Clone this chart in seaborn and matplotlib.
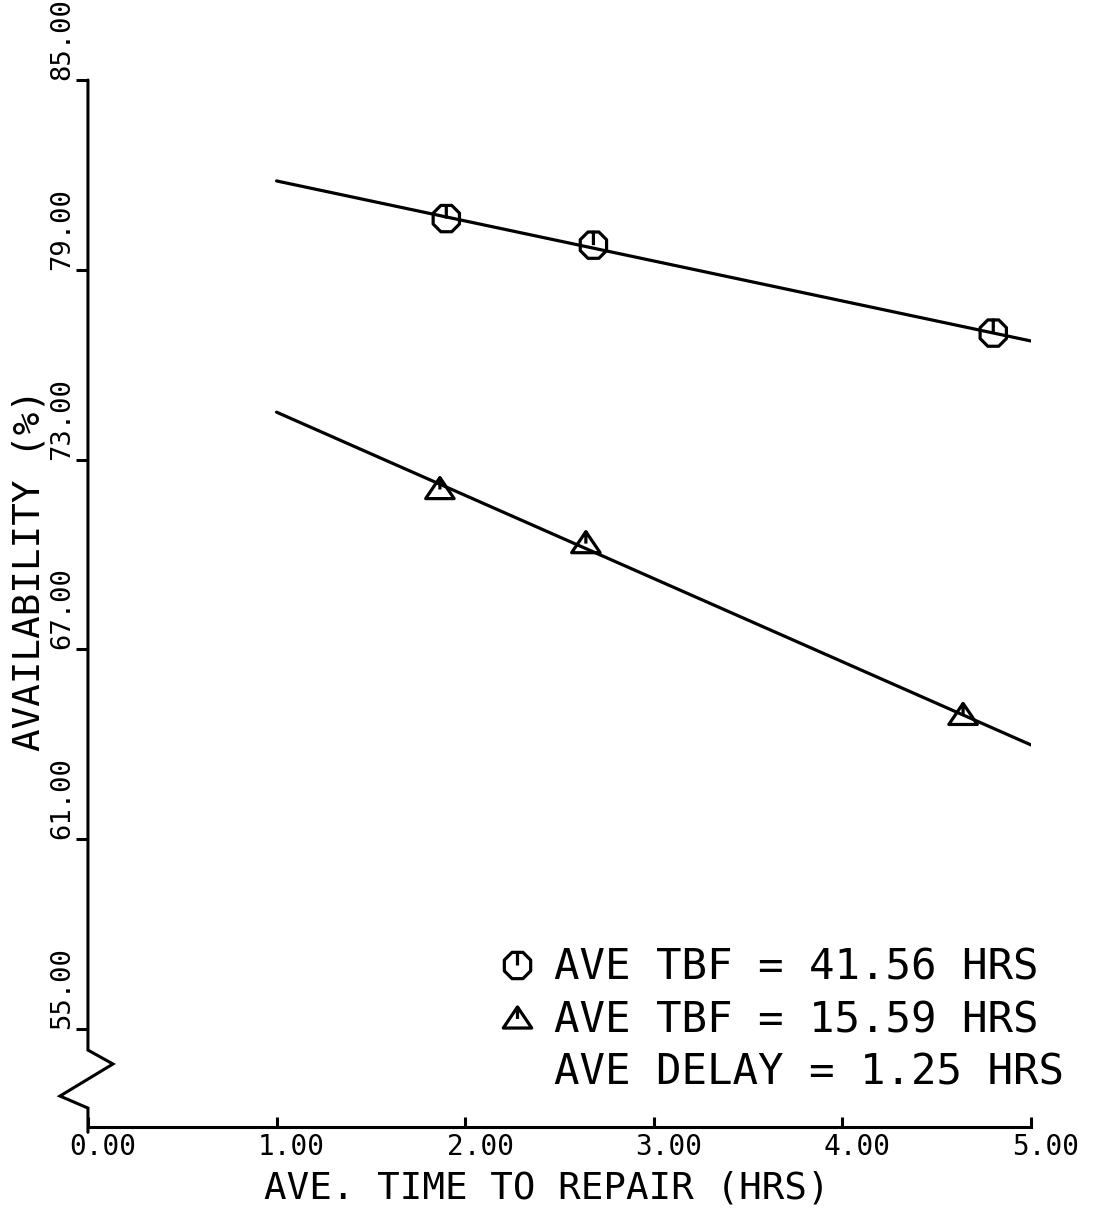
import numpy as np
import pandas as pd
import seaborn as sns
import matplotlib
matplotlib.use("Agg")
import matplotlib.pyplot as plt
from matplotlib.path import Path
from matplotlib.lines import Line2D
from matplotlib.transforms import ScaledTranslation

# ---------------- data ----------------
repair_hi = [1.90, 2.68, 4.80]
avail_hi = [80.62, 79.78, 77.00]
repair_lo = [1.866, 2.64, 4.64]
avail_lo = [72.10, 70.39, 64.96]
fit_x = [1.0, 5.0]
fit_hi = [81.81, 76.75]
fit_lo = [74.50, 63.98]

y_ticks = [55, 61, 67, 73, 79, 85]
x_ticks = [0, 1, 2, 3, 4, 5]
legend_labels = ["AVE TBF = 41.56 HRS", "AVE TBF = 15.59 HRS", "AVE DELAY = 1.25 HRS"]
x_label = "AVE. TIME TO REPAIR (HRS)"
y_label = "AVAILABILITY (%)"

# ---------------- style ----------------
sns.set_style("ticks")
plt.rcParams.update({
    "axes.edgecolor": "black", "text.color": "black", "axes.labelcolor": "black",
    "xtick.color": "black", "ytick.color": "black",
})
plt.rcParams["font.family"] = ["DejaVu Sans Mono", "DejaVu Sans"]

# custom plotter-like markers
ang = np.deg2rad(np.arange(8) * 45 + 22.5)
oct_v = [(0.5 * np.cos(a), 0.5 * np.sin(a)) for a in ang]
circ_verts = oct_v + [oct_v[0], (0, 0.5), (0, 0.0)]
circ_codes = [Path.MOVETO] + [Path.LINETO] * 7 + [Path.CLOSEPOLY, Path.MOVETO, Path.LINETO]
circ_marker = Path(circ_verts, circ_codes)

tri_verts = [(-0.5, -0.37), (0.5, -0.37), (0.0, 0.37), (-0.5, -0.37), (0.0, 0.37), (0.0, -0.05)]
tri_codes = [Path.MOVETO, Path.LINETO, Path.LINETO, Path.CLOSEPOLY, Path.MOVETO, Path.LINETO]
tri_marker = Path(tri_verts, tri_codes)

fig = plt.figure(figsize=(10.94, 12.09), dpi=100)
ax = fig.add_axes([0.0804, 0.0678, 0.862, 0.866])

df_fit = pd.DataFrame({"x": fit_x * 2, "y": fit_hi + fit_lo, "s": ["hi"] * 2 + ["lo"] * 2})
sns.lineplot(data=df_fit, x="x", y="y", units="s", estimator=None, color="black", lw=2.3, ax=ax)

msize = 20.5
sns.scatterplot(x=repair_hi, y=avail_hi, marker=circ_marker, s=msize ** 2,
                facecolor="none", edgecolor="black", linewidth=2.3, ax=ax, zorder=3)
sns.scatterplot(x=repair_lo, y=avail_lo, marker=tri_marker, s=msize ** 2,
                facecolor="none", edgecolor="black", linewidth=2.3, ax=ax, zorder=3)

ax.set_xlim(0, 5)
ax.set_ylim(51.9, 85)
ax.spines["top"].set_visible(False)
ax.spines["right"].set_visible(False)
ax.spines["left"].set_visible(False)
ax.spines["bottom"].set_linewidth(2.2)

# broken y axis line (axes-fraction geometry)
ax.plot([0, 0, 0.0265, -0.0297, 0, 0, 0], [1.0, 0.0735, 0.0602, 0.0296, 0.0181, 0.0, -0.005],
        transform=ax.transAxes, color="black", lw=2.2, clip_on=False,
        solid_joinstyle="miter")

ax.set_yticks(y_ticks)
ax.set_yticklabels([f"{v:.2f}" for v in y_ticks], rotation=90, rotation_mode="anchor",
                   ha="left", va="bottom", fontsize=19.5)
ax.tick_params(axis="y", direction="out", length=9, width=2.2, pad=0)

ax.set_xticks(x_ticks)
ax.set_xticklabels([f"{v:.2f}" for v in x_ticks], fontsize=20)
ax.tick_params(axis="x", direction="in", length=7, width=2.2, pad=4.5)
off = ScaledTranslation(0.15, 0, fig.dpi_scale_trans)
for lab in ax.get_xticklabels():
    lab.set_transform(lab.get_transform() + off)

ax.set_xlabel(x_label, fontsize=27)
ax.xaxis.set_label_coords(0.487, -0.0585)
ax.xaxis.label.set_va("center")
ax.set_ylabel(y_label, fontsize=27)
ax.yaxis.set_label_coords(-0.0625, 0.532)
ax.yaxis.label.set_va("center")

handles = [
    Line2D([], [], ls="none", marker=circ_marker, markersize=msize, mfc="none", mec="black", mew=2.3),
    Line2D([], [], ls="none", marker=tri_marker, markersize=msize, mfc="none", mec="black", mew=2.3),
    Line2D([], [], ls="none"),
]
ax.legend(handles, legend_labels, loc="upper left", bbox_to_anchor=(496 / 1094, 1 - 947 / 1209),
          bbox_transform=fig.transFigure, frameon=False, fontsize=30.5, borderpad=0,
          handlelength=1.0, handletextpad=0.36, labelspacing=0.24, borderaxespad=0)

fig.savefig("out.png", dpi=100)
